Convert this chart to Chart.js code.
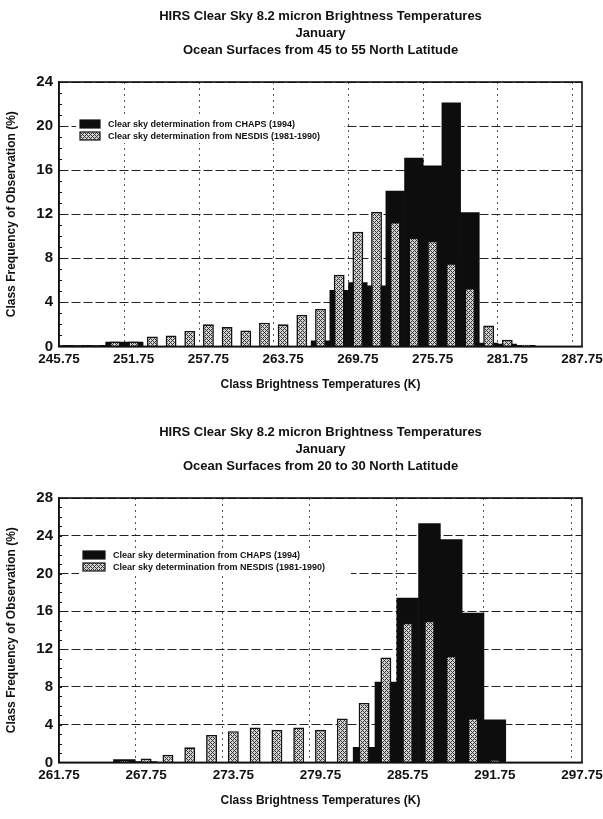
<!DOCTYPE html>
<html><head><meta charset="utf-8">
<script src="https://cdn.jsdelivr.net/npm/chart.js@4.4.1/dist/chart.umd.min.js"></script>
<style>
html,body{margin:0;padding:0;background:#ffffff;}
body{width:603px;height:819px;position:relative;overflow:hidden;}
.wrap{position:absolute;left:0;width:603px;height:403px;}
#w1{top:0px}
#w2{top:416px}
</style></head><body>
<div class="wrap" id="w1"><canvas id="c1" width="603" height="403"></canvas></div>
<div class="wrap" id="w2"><canvas id="c2" width="603" height="403"></canvas></div>
<script>
// ---------- data ----------
const titleMain = 'HIRS Clear Sky 8.2 micron Brightness Temperatures';
const titleMonth = 'January';
const titleRegion1 = 'Ocean Surfaces from 45 to 55 North Latitude';
const titleRegion2 = 'Ocean Surfaces from 20 to 30 North Latitude';
const xTitle = 'Class Brightness Temperatures (K)';
const yTitle = 'Class Frequency of Observation (%)';
const seriesNames = ['Clear sky determination from CHAPS (1994)', 'Clear sky determination from NESDIS (1981-1990)'];

const categories1 = ['245.75','247.25','248.75','250.25','251.75','253.25','254.75','256.25','257.75','259.25',
  '260.75','262.25','263.75','265.25','266.75','268.25','269.75','271.25','272.75','274.25',
  '275.75','277.25','278.75','280.25','281.75','283.25','284.75','286.25','287.75'];
const tickLabels1 = ['245.75','251.75','257.75','263.75','269.75','275.75','281.75','287.75'];
const chaps1 = [0.1,0.1,0.1,0.4,0.4,0,0,0,0,0,0,0,0,0,0.5,5.1,5.8,5.5,14.1,17.1,16.4,22.1,12.15,0.3,0.2,0.1,0,0,0];
const nesdis1 = [0.1,0.1,0.1,0.45,0.45,0.9,1.0,1.4,2.0,1.75,1.45,2.15,2.0,2.85,3.4,6.5,10.4,12.2,11.3,9.9,9.6,7.55,5.3,1.9,0.6,0.15,0,0,0];
const yMax1 = 24;

const categories2 = ['261.75','263.25','264.75','266.25','267.75','269.25','270.75','272.25','273.75','275.25',
  '276.75','278.25','279.75','281.25','282.75','284.25','285.75','287.25','288.75','290.25',
  '291.75','293.25','294.75','296.25','297.75'];
const tickLabels2 = ['261.75','267.75','273.75','279.75','285.75','291.75','297.75'];
const chaps2 = [0,0,0,0.3,0.1,0,0,0,0,0,0,0,0,0,1.6,8.5,17.4,25.3,23.6,15.8,4.5,0,0,0,0];
const nesdis2 = [0,0,0.05,0.2,0.4,0.8,1.6,2.9,3.3,3.7,3.45,3.7,3.45,4.65,6.3,11.1,14.8,15.0,11.3,4.7,0.3,0,0,0,0];
const yMax2 = 28;

// ---------- styling ----------
const FONT = '"Liberation Sans", Arial, Helvetica, sans-serif';
const INK = '#111111';

function makePattern() {
  const c = document.createElement('canvas');
  c.width = 4; c.height = 4;
  const g = c.getContext('2d');
  g.fillStyle = '#d2d2d2'; g.fillRect(0,0,4,4);
  g.fillStyle = '#383838';
  for (let x = 0; x < 4; x++) for (let y = 0; y < 4; y++) {
    if ((x + y) % 4 === 0 || (x - y + 4) % 4 === 0) g.fillRect(x, y, 1, 1);
  }
  return g.createPattern(c, 'repeat');
}

const decor = {
  id: 'decor',
  afterDatasetsDraw(chart, args, opts) {
    const {ctx, chartArea: a} = chart;
    const ys = chart.scales.y;
    ctx.save();
    ctx.strokeStyle = INK; ctx.lineWidth = 1;
    for (let v = 0; v <= ys.max; v += 1) {
      const py = Math.round(ys.getPixelForValue(v)) + 0.5;
      ctx.beginPath(); ctx.moveTo(a.left, py); ctx.lineTo(a.left + 3, py); ctx.stroke();
    }
    const L = opts;
    ctx.fillStyle = '#ffffff';
    ctx.fillRect(L.bgX, L.y - L.boxH / 2 - 3, L.bgW, L.rowGap + L.boxH + 6);
    const ds = chart.data.datasets;
    ctx.font = 'bold 9px ' + FONT;
    ctx.textBaseline = 'middle';
    ctx.textAlign = 'left';
    for (let i = 0; i < ds.length; i++) {
      const cy = L.y + i * L.rowGap;
      ctx.fillStyle = ds[i].backgroundColor;
      ctx.fillRect(L.x, cy - L.boxH / 2, L.boxW, L.boxH);
      ctx.strokeStyle = INK; ctx.lineWidth = 1.2;
      ctx.strokeRect(L.x, cy - L.boxH / 2, L.boxW, L.boxH);
      ctx.fillStyle = INK;
      ctx.fillText(ds[i].label, L.x + L.boxW + L.textGap, cy + 0.5);
    }
    ctx.restore();
  },
  afterDraw(chart) {
    const {ctx, chartArea: a} = chart;
    ctx.save();
    ctx.strokeStyle = INK; ctx.lineWidth = 1.6;
    ctx.strokeRect(a.left, a.top, a.right - a.left, a.bottom - a.top);
    ctx.restore();
  }
};

function build(canvasId, cats, ticks, chaps, nesdis, yMax, region, legendPos, hatchPct) {
  const pattern = makePattern();
  return new Chart(document.getElementById(canvasId), {
    type: 'bar',
    data: {
      labels: cats,
      datasets: [
        { label: seriesNames[0], data: chaps, backgroundColor: '#0d0d0d', borderColor: '#0d0d0d',
          borderWidth: 0, barPercentage: 1.0, categoryPercentage: 1.0, grouped: false, order: 1 },
        { label: seriesNames[1], data: nesdis, backgroundColor: pattern, borderColor: INK,
          borderWidth: 1.6, barPercentage: hatchPct, categoryPercentage: 1.0, grouped: false, order: 0 }
      ]
    },
    options: {
      responsive: false,
      animation: false,
      layout: { padding: { left: 0, right: 21, top: 0, bottom: 9 } },
      plugins: {
        legend: { display: false },
        tooltip: { enabled: false },
        title: {
          display: true, fullSize: false,
          text: [titleMain, titleMonth, region],
          color: INK,
          font: { family: FONT, size: 13, weight: 'bold', lineHeight: 17 / 13 },
          padding: { top: 8, bottom: 23 }
        },
        decor: legendPos
      },
      scales: {
        x: {
          type: 'category',
          offset: false,
          afterFit: (s) => { s.paddingRight = 0; s.paddingLeft = 0; },
          grid: {
            drawTicks: false,
            color: (c) => ticks.includes(cats[c.index]) ? '#555555' : 'rgba(0,0,0,0)',
            lineWidth: 1
          },
          border: { display: true, color: INK, width: 1.5, dash: [2, 4] },
          ticks: {
            autoSkip: false, maxRotation: 0, minRotation: 0, padding: 5,
            color: INK, font: { family: FONT, size: 13.5, weight: 'bold' },
            callback: function (v) { const l = this.getLabelForValue(v); return ticks.includes(l) ? l : ''; }
          },
          title: {
            display: true, text: xTitle, color: INK,
            font: { family: FONT, size: 12, weight: 'bold' },
            padding: { top: 5, bottom: 2 }
          }
        },
        y: {
          min: 0, max: yMax,
          afterFit: (s) => { s.width = 59; },
          grid: { drawTicks: false, color: '#222222', lineWidth: 1 },
          border: { display: true, color: INK, width: 1.5, dash: [9, 3] },
          ticks: {
            stepSize: 4, padding: 6, color: INK,
            font: { family: FONT, size: 15, weight: 'bold' }
          },
          title: {
            display: true, text: yTitle, color: INK,
            font: { family: FONT, size: 12, weight: 'bold' },
            padding: { top: 4, bottom: 0 }
          }
        }
      }
    },
    plugins: [decor]
  });
}

build('c1', categories1, tickLabels1, chaps1, nesdis1, yMax1, titleRegion1,
  { x: 80, y: 124, boxW: 20, boxH: 8, rowGap: 12, textGap: 8, bgX: 76, bgW: 268 }, 0.58);
build('c2', categories2, tickLabels2, chaps2, nesdis2, yMax2, titleRegion2,
  { x: 83, y: 139, boxW: 22, boxH: 8, rowGap: 12, textGap: 8, bgX: 79, bgW: 272 }, 0.5);
</script>
</body></html>
